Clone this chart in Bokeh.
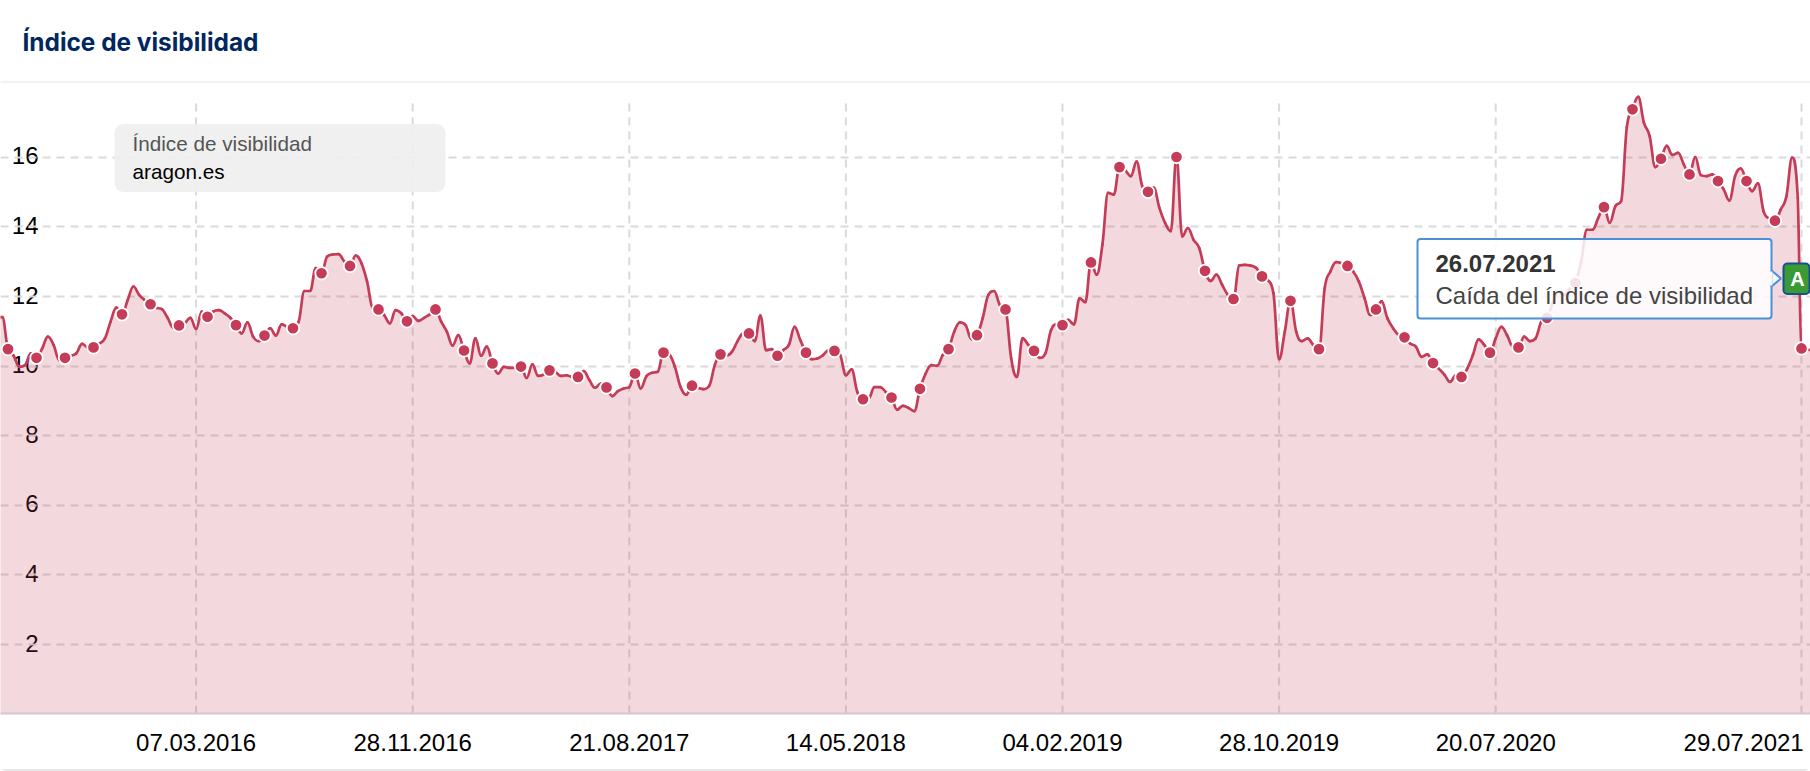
from bokeh.plotting import figure
from bokeh.embed import file_html
from bokeh.resources import INLINE
from bokeh.models import (ColumnDataSource, FixedTicker, Label, BoxAnnotation, PolyAnnotation,
                          Span, Title)

# week index: position along the chart's ordinal (weekly) time axis
grid_positions = [33, 71, 109, 147, 185, 223, 261, 314.65]
tick_labels = ["07.03.2016", "28.11.2016", "21.08.2017", "14.05.2018",
               "04.02.2019", "28.10.2019", "20.07.2020", "29.07.2021"]
# the last label is pushed left so that it stays inside the chart, as in the reference
label_positions = [33, 71, 109, 147, 185, 223, 261, 304.5]
y_ticks = [2, 4, 6, 8, 10, 12, 14, 16]
# the reference's value labels sit a little above their grid lines
y_label_positions = [2.04, 4.04, 6.04, 8.04, 10.04, 12.04, 14.04, 16.04]

visibility = [
    11.41, 11.41,
    10.49, 10.30, 9.98, 10.03, 10.37, 10.24, 10.51, 10.85, 10.61, 10.17,
    10.24, 10.30, 10.37, 10.64, 10.54, 10.54, 10.65, 10.80, 11.28, 11.68,
    11.49, 11.90, 12.29, 12.05, 11.90, 11.78, 11.68, 11.64, 11.39, 11.11,
    11.17, 11.23, 11.39, 11.07, 11.57, 11.42, 11.57, 11.61, 11.52, 11.39,
    11.18, 10.94, 11.26, 10.85, 10.72, 10.88, 11.09, 10.88, 11.20, 11.13,
    11.09, 11.28, 12.16, 12.16, 12.82, 12.67, 13.15, 13.21, 13.22, 13.01,
    12.88, 13.18, 12.96, 12.43, 11.66, 11.63, 11.47, 11.23, 11.61, 11.52,
    11.29, 11.44, 11.30, 11.39, 11.49, 11.63, 11.28, 10.99, 10.59, 10.89,
    10.45, 10.08, 10.80, 10.30, 10.56, 10.08, 9.79, 9.98, 9.95, 9.95,
    9.99, 9.66, 10.05, 9.72, 9.76, 9.88, 9.84, 9.72, 9.74, 9.69,
    9.69, 9.86, 9.60, 9.38, 9.50, 9.39, 9.14, 9.28, 9.36, 9.40,
    9.79, 9.36, 9.71, 9.81, 9.84, 10.39, 10.34, 9.98, 9.40, 9.18,
    9.44, 9.38, 9.34, 9.43, 10.03, 10.34, 10.30, 10.41, 10.72, 10.94,
    10.94, 10.72, 11.45, 10.46, 10.49, 10.30, 10.46, 10.61, 11.13, 10.75,
    10.39, 10.20, 10.22, 10.32, 10.46, 10.44, 10.32, 9.74, 9.91, 9.26,
    9.05, 9.07, 9.40, 9.40, 9.26, 9.10, 8.75, 8.86, 8.80, 8.71,
    9.35, 9.79, 10.03, 10.01, 10.32, 10.49, 10.99, 11.26, 11.18, 10.78,
    10.89, 11.38, 12.05, 12.16, 11.76, 11.63, 10.22, 9.69, 10.80, 10.61,
    10.44, 10.24, 10.37, 11.04, 11.20, 11.18, 11.33, 11.20, 11.95, 11.84,
    12.98, 12.63, 13.49, 14.98, 14.93, 15.72, 15.63, 15.46, 15.88, 15.17,
    15.01, 15.13, 14.55, 14.12, 13.88, 16.01, 13.73, 13.97, 13.63, 13.39,
    12.74, 12.45, 12.63, 12.34, 12.05, 11.93, 12.89, 12.91, 12.89, 12.82,
    12.58, 12.48, 12.10, 10.20, 10.99, 11.88, 10.99, 10.72, 10.80, 10.61,
    10.49, 12.24, 12.72, 12.99, 12.96, 12.88, 12.72, 12.43, 11.95, 11.47,
    11.63, 11.86, 11.38, 11.09, 10.89, 10.83, 10.65, 10.56, 10.27, 10.34,
    10.09, 9.93, 9.76, 9.55, 9.74, 9.69, 9.93, 10.32, 10.77, 10.61,
    10.39, 10.80, 11.13, 10.89, 10.56, 10.54, 10.85, 10.72, 10.80, 11.28,
    11.39, 11.81, 12.14, 12.05, 12.24, 12.39, 13.01, 13.92, 13.92, 14.26,
    14.57, 14.12, 14.60, 14.74, 16.86, 17.38, 17.74, 17.00, 16.62, 15.72,
    15.96, 16.33, 16.07, 16.13, 15.80, 15.51, 16.01, 15.49, 15.46, 15.51,
    15.32, 15.08, 14.76, 15.46, 15.68, 15.32, 15.03, 15.25, 14.45, 14.24,
    14.18, 14.50, 14.88, 15.99, 14.84,
    10.51, 10.47,
]
# weekly positions from two weeks before the first dot; the last two are the final partial weeks
weeks = list(range(-2, 315)) + [314.65, 316.2]

RED = "#c43c57"
X0, X1 = -1.316, 316.23
Y0, Y1 = 0.02, 18.18


def spline_controls(xs, ys):
    """Control points of a Highcharts-style spline through the read values (rendering only)."""
    n = len(xs)
    s, d = 1.5, 2.5
    left, right = [None] * n, [None] * n
    for i in range(n):
        if i == 0 or i == n - 1:
            left[i] = (xs[i], ys[i])
            right[i] = (xs[i], ys[i])
            continue
        x, y, px, py, nx, ny = xs[i], ys[i], xs[i - 1], ys[i - 1], xs[i + 1], ys[i + 1]
        lx, ly = (s * x + px) / d, (s * y + py) / d
        rx, ry = (s * x + nx) / d, (s * y + ny) / d
        c = (ry - ly) * (rx - x) / (rx - lx) + y - ry
        ly += c
        ry += c
        if ly > py and ly > y:
            ly = max(py, y)
            ry = 2 * y - ly
        elif ly < py and ly < y:
            ly = min(py, y)
            ry = 2 * y - ly
        if ry > ny and ry > y:
            ry = max(ny, y)
            ly = 2 * y - ry
        elif ry < ny and ry < y:
            ry = min(ny, y)
            ly = 2 * y - ry
        left[i] = (lx, ly)
        right[i] = (rx, ry)
    return left, right


p = figure(width=1810, height=771, output_backend="svg", toolbar_location=None,
           x_range=(X0, X1), y_range=(Y0, Y1),
           min_border_left=0, min_border_right=0, min_border_top=80, min_border_bottom=58,
           background_fill_color="white", border_fill_color="white", outline_line_color=None,
           styles={"position": "absolute", "left": "0px", "top": "0px",
                   "border-bottom": "2px solid #e8e8e8", "border-radius": "0 0 6px 6px"})

p.title = Title(text="Índice de visibilidad", text_font="Inter", text_font_size="24.4px",
                text_font_style="bold", text_color="#00285f", offset=22, standoff=49, align="left")

# grid
p.xgrid.visible = False
p.ygrid.ticker = FixedTicker(ticks=y_ticks)
p.ygrid.grid_line_color = "#dadada"
p.ygrid.grid_line_width = 2
p.ygrid.grid_line_dash = "8 6"
p.ygrid.level = "underlay"
p.segment(x0=grid_positions, x1=grid_positions, y0=[Y0] * len(grid_positions),
          y1=[17.7] * len(grid_positions), line_color="#dadada", line_width=2, line_dash="8 6",
          level="underlay")

# axes
ax = p.xaxis[0]
ax.ticker = FixedTicker(ticks=label_positions)
ax.major_label_overrides = {t: l for t, l in zip(label_positions, tick_labels)}
ax.major_label_text_font = "Liberation Sans"
ax.major_label_text_font_size = "24px"
ax.major_label_text_color = "#000000"
ax.major_tick_line_color = None
ax.minor_tick_line_color = None
ax.major_tick_out = 0
ax.major_tick_in = 0
ax.major_label_standoff = 20
ax.axis_line_color = "#dcc4ca"
ax.axis_line_width = 2

ay = p.yaxis[0]
ay.fixed_location = 5.35
ay.ticker = FixedTicker(ticks=y_label_positions)
ay.major_label_overrides = {t: str(v) for t, v in zip(y_label_positions, y_ticks)}
ay.major_label_text_font = "Liberation Sans"
ay.major_label_text_font_size = "24px"
ay.major_label_text_color = "#000000"
ay.major_tick_line_color = None
ay.minor_tick_line_color = None
ay.axis_line_color = None
ay.major_tick_out = 0
ay.major_tick_in = 0
ay.major_label_standoff = 0
ay.level = "underlay"

# series: area and line follow a spline through the weekly values
left, right = spline_controls(weeks, visibility)
n = len(weeks)
curve_x, curve_y = [], []
for i in range(n - 1):
    x0, y0, x3, y3 = weeks[i], visibility[i], weeks[i + 1], visibility[i + 1]
    x1, y1 = right[i]
    x2, y2 = left[i + 1]
    for k in range(8):
        t = k / 8
        u = 1 - t
        curve_x.append(u**3 * x0 + 3 * u * u * t * x1 + 3 * u * t * t * x2 + t**3 * x3)
        curve_y.append(u**3 * y0 + 3 * u * u * t * y1 + 3 * u * t * t * y2 + t**3 * y3)
curve_x.append(weeks[-1])
curve_y.append(visibility[-1])

p.varea(x=curve_x, y1=[Y0] * len(curve_x), y2=curve_y, fill_color=RED, fill_alpha=0.2)
seg = ColumnDataSource(dict(
    x0=weeks[:-1], y0=visibility[:-1], x1=weeks[1:], y1=visibility[1:],
    cx0=[c[0] for c in right[:-1]], cy0=[c[1] for c in right[:-1]],
    cx1=[c[0] for c in left[1:]], cy1=[c[1] for c in left[1:]]))
p.bezier(x0="x0", y0="y0", x1="x1", y1="y1", cx0="cx0", cy0="cy0", cx1="cx1", cy1="cy1",
         source=seg, line_color=RED, line_width=2.7, line_cap="round")
dot_x = [w for w in weeks if w >= 0 and (w % 5 == 0 or w == 314.65)]
dot_y = [v for w, v in zip(weeks, visibility) if w >= 0 and (w % 5 == 0 or w == 314.65)]
p.scatter(dot_x, dot_y, size=12.5, fill_color=RED, line_color="white", line_width=1.8)

# header rule
p.add_layout(Span(location=Y1, dimension="width", line_color="#e8e8e8", line_width=2))


# overlay helpers: the frame's bottom is at page y=713
def sy(y):
    return 713 - y


SCREEN = dict(left_units="screen", right_units="screen", top_units="screen", bottom_units="screen")

# legend box
p.add_layout(BoxAnnotation(left=114, right=445, top=sy(123.5), bottom=sy(191.5), **SCREEN,
                           fill_color="#efefef", fill_alpha=0.92, line_color=None, border_radius=9))
p.add_layout(Label(x=132, y=sy(143), x_units="screen", y_units="screen", text="Índice de visibilidad",
                   text_font="Liberation Sans", text_font_size="20.7px", text_color="#555555",
                   text_baseline="middle"))
p.add_layout(Label(x=132, y=sy(170.5), x_units="screen", y_units="screen", text="aragon.es",
                   text_font="Liberation Sans", text_font_size="20.7px", text_color="#000000",
                   text_baseline="middle"))

# tooltip
p.add_layout(BoxAnnotation(left=1417, right=1771, top=sy(238.5), bottom=sy(318), **SCREEN,
                           fill_color="#ffffff", fill_alpha=0.85, line_color="#4a90d9", line_alpha=1,
                           line_width=2, border_radius=3))
p.add_layout(PolyAnnotation(xs=[1771, 1780.5, 1771], ys=[sy(270), sy(278), sy(286)],
                            xs_units="screen", ys_units="screen", fill_color="#fbf6f7", fill_alpha=1,
                            line_color="#4a90d9", line_alpha=1, line_width=2))
p.add_layout(BoxAnnotation(left=1769.5, right=1772, top=sy(271), bottom=sy(285), **SCREEN,
                           fill_color="#fbf6f7", fill_alpha=1, line_color=None))
p.add_layout(Label(x=1435, y=sy(263), x_units="screen", y_units="screen", text="26.07.2021",
                   text_font="Liberation Sans", text_font_size="24px", text_font_style="bold",
                   text_color="#333333", text_baseline="middle"))
p.add_layout(Label(x=1435, y=sy(295), x_units="screen", y_units="screen",
                   text="Caída del índice de visibilidad",
                   text_font="Liberation Sans", text_font_size="24px", text_color="#444444",
                   text_baseline="middle"))

# event flag
p.add_layout(BoxAnnotation(left=1783, right=1809, top=sy(263), bottom=sy(293.5), **SCREEN,
                           fill_color="#3a9a35", fill_alpha=1, line_color="#15508f", line_alpha=1,
                           line_width=2, border_radius=4))
p.add_layout(Label(x=1797, y=sy(278), x_units="screen", y_units="screen", text="A",
                   text_font="Liberation Sans", text_font_size="20px", text_font_style="bold",
                   text_color="#ffffff", text_baseline="middle", text_align="center"))

open("out.html", "w").write(file_html(p, INLINE))
